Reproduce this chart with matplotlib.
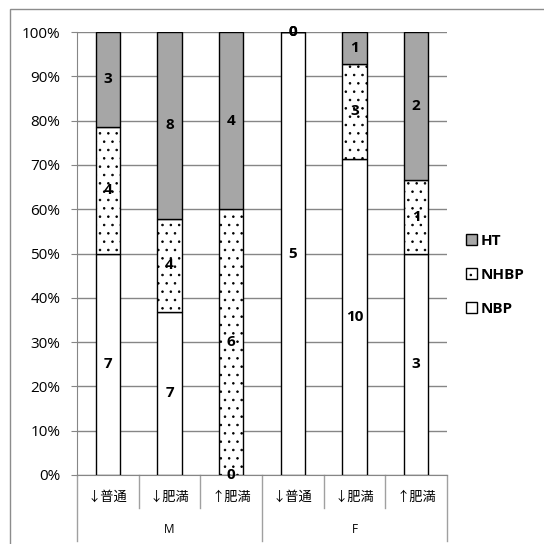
import numpy as np
import matplotlib
matplotlib.use("Agg")
import matplotlib.pyplot as plt
from matplotlib.patches import Rectangle
from matplotlib.lines import Line2D

plt.rcParams['font.family'] = ['Open Sans', 'Noto Sans CJK JP', 'DejaVu Sans']
plt.rcParams['hatch.linewidth'] = 0.6

# counts per subgroup
categories = ["↓普通", "↓肥満", "↑肥満", "↓普通", "↓肥満", "↑肥満"]
groups = ["M", "F"]
nbp = [7, 7, 0, 5, 10, 3]
nhbp = [4, 4, 6, 0, 3, 1]
ht = [3, 8, 4, 0, 1, 2]
yticks = [0, 10, 20, 30, 40, 50, 60, 70, 80, 90, 100]

nbp_a, nhbp_a, ht_a = np.array(nbp, float), np.array(nhbp, float), np.array(ht, float)
tot = nbp_a + nhbp_a + ht_a
p_nbp = nbp_a / tot * 100
p_nhbp = nhbp_a / tot * 100
p_ht = ht_a / tot * 100

fig = plt.figure(figsize=(5.44, 5.44), dpi=100)
ax = fig.add_axes([77/544, 1 - 475/544, 370/544, 443/544])

x = np.arange(len(categories))
w = 0.39
ax.bar(x, p_nbp, w, color="white", edgecolor="black", lw=1.0, label="NBP", zorder=3)
ax.bar(x, p_nhbp, w, bottom=p_nbp, color="white", edgecolor="black", lw=1.0,
       hatch="..", label="NHBP", zorder=3)
ax.bar(x, p_ht, w, bottom=p_nbp + p_nhbp, color="#a6a6a6", edgecolor="black", lw=1.0,
       label="HT", zorder=3)

# value labels at segment centres
lab = dict(ha="center", va="center", fontsize=11, fontweight="bold", zorder=5)
for i in range(len(x)):
    ax.text(x[i], p_nbp[i] / 2, str(nbp[i]), **lab)
    ax.text(x[i], p_nbp[i] + p_nhbp[i] / 2, str(nhbp[i]), **lab)
    ax.text(x[i], p_nbp[i] + p_nhbp[i] + p_ht[i] / 2, str(ht[i]), **lab)

ax.set_xlim(-0.5, len(x) - 0.5)
ax.set_ylim(0, 100)
ax.set_yticks(yticks)
ax.set_yticklabels([f"{t}%" for t in yticks], fontsize=11)
ax.yaxis.grid(True, color="#868686", lw=1.0, zorder=0)
ax.tick_params(axis="y", length=4, color="#868686", pad=8)
ax.set_xticks([])
for s in ["top", "right"]:
    ax.spines[s].set_visible(False)
ax.spines["left"].set_color("#868686")
ax.spines["bottom"].set_color("#868686")

# two-level category axis
tr = ax.get_xaxis_transform()
gc = "#a0a0a0"
for i, c in enumerate(categories):
    ax.text(x[i], -0.05, c, transform=tr, ha="center", va="center", fontsize=9.5)
for g, gx in zip(groups, [1, 4]):
    ax.text(gx, -0.122, g, transform=tr, ha="center", va="center", fontsize=8.5)
for b in [0.5, 1.5, 3.5, 4.5]:
    ax.add_line(Line2D([b, b], [0, -0.074], transform=tr, color=gc, lw=1.0, clip_on=False))
for b in [-0.5, 2.5, 5.5]:
    ax.add_line(Line2D([b, b], [0, -0.15], transform=tr, color=gc, lw=1.0, clip_on=False))

h, l = ax.get_legend_handles_labels()
ax.legend(h[::-1], l[::-1], loc="upper left", bbox_to_anchor=(466/544, 1 - 234/544),
          bbox_transform=fig.transFigure, frameon=False, handlelength=0.7,
          handleheight=0.7, handletextpad=0.25, labelspacing=1.3,
          prop={"weight": "bold", "size": 11}, borderaxespad=0, borderpad=0)

# chart frame
fig.add_artist(Rectangle((10/544, -0.05), 1.2, 1 - 9/544 + 0.05, transform=fig.transFigure,
                         fill=False, edgecolor="#8c8c8c", lw=1.0))

fig.savefig("out.png", dpi=100)
